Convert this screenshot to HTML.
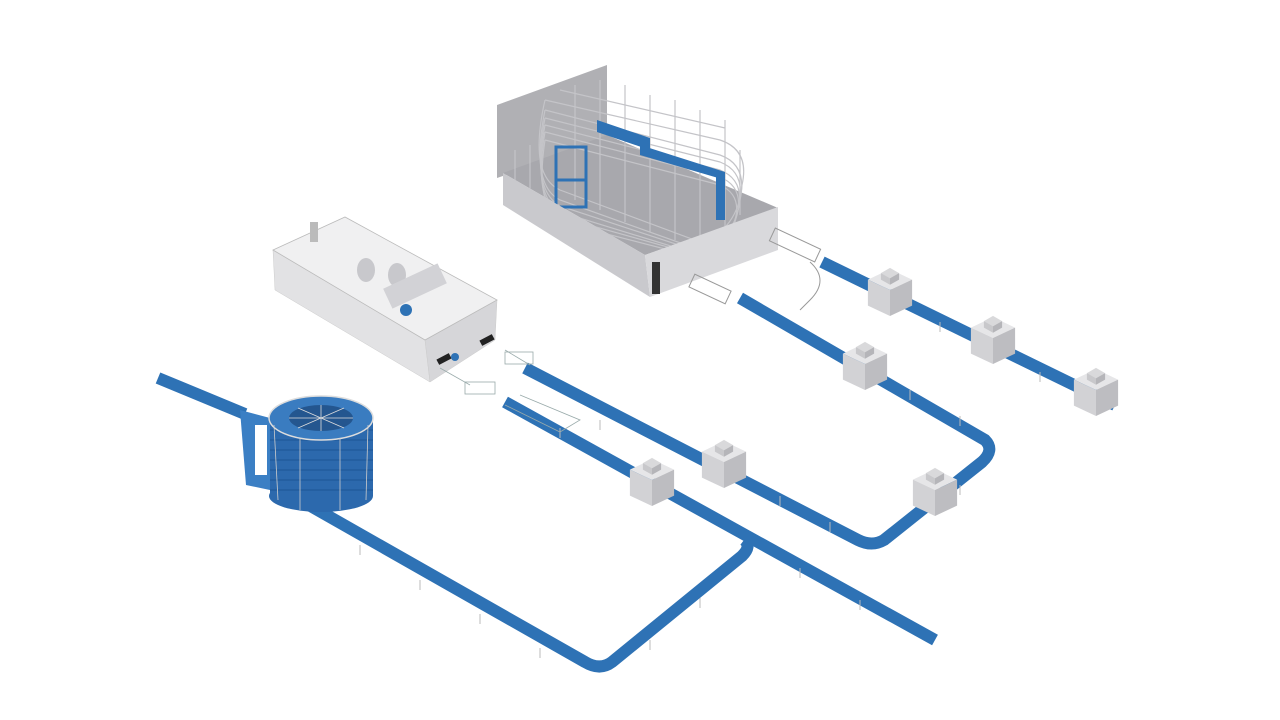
<!DOCTYPE html>
<html><head><meta charset="utf-8"><style>html,body{margin:0;padding:0;background:#fff}svg{display:block}</style></head>
<body>
<svg width="1280" height="720" viewBox="0 0 1280 720" xmlns="http://www.w3.org/2000/svg">
<defs>
<g id="box" transform="scale(1.3)">
<polygon points="-17,-8 0,-16 17,-8 0,0" fill="#e6e6e8"/>
<polygon points="-17,-8 0,0 0,20 -17,12" fill="#d2d2d5"/>
<polygon points="0,0 17,-8 17,12 0,20" fill="#bdbdc1"/>
<polygon points="-7,-13 0,-17 7,-13 0,-9" fill="#d9d9db"/>
<polygon points="-7,-13 0,-9 0,-4 -7,-8" fill="#c8c8cb"/>
<polygon points="0,-9 7,-13 7,-8 0,-4" fill="#b5b5b9"/>
</g>
</defs>
<g fill="none" stroke="#2e72b5" stroke-width="12" stroke-linejoin="round" stroke-linecap="butt">
<polyline points="158,378 245,414"/>
<path d="M300,500 L585,662 Q600,671 612,662 L742,556 Q752,546 744,540"/>
<polyline points="505,402 935,640"/>
<path d="M525,368 L858,540 Q872,547 884,540 L982,462 Q995,450 985,440 L740,298"/>
<polyline points="822,262 1115,405"/>
</g>
<g stroke="#bbb" stroke-width="1">
<line x1="360" y1="545" x2="360" y2="555"/><line x1="420" y1="580" x2="420" y2="590"/><line x1="480" y1="614" x2="480" y2="624"/><line x1="540" y1="648" x2="540" y2="658"/>
<line x1="650" y1="640" x2="650" y2="650"/><line x1="700" y1="598" x2="700" y2="608"/>
<line x1="800" y1="568" x2="800" y2="578"/><line x1="860" y1="600" x2="860" y2="610"/>
<line x1="780" y1="496" x2="780" y2="506"/><line x1="830" y1="522" x2="830" y2="532"/><line x1="960" y1="485" x2="960" y2="495"/>
<line x1="910" y1="390" x2="910" y2="400"/><line x1="960" y1="416" x2="960" y2="426"/>
<line x1="1040" y1="372" x2="1040" y2="382"/><line x1="940" y1="322" x2="940" y2="332"/>
<line x1="600" y1="420" x2="600" y2="430"/><line x1="560" y1="428" x2="560" y2="438"/>
</g>
<use href="#box" x="652" y="480"/>
<use href="#box" x="724" y="462"/>
<use href="#box" x="865" y="364"/>
<use href="#box" x="935" y="490"/>
<use href="#box" x="890" y="290"/>
<use href="#box" x="993" y="338"/>
<use href="#box" x="1096" y="390"/>

<polygon points="273,250 425,340 430,382 275,290" fill="#e2e2e4" stroke="#ccc" stroke-width="0.5"/>
<polygon points="425,340 497,300 495,340 430,382" fill="#d6d6d9" stroke="#ccc" stroke-width="0.5"/>
<polygon points="273,250 345,217 497,300 425,340" fill="#f0f0f1" stroke="#bbb" stroke-width="0.8"/>
<g fill="#c8c8cc"><ellipse cx="366" cy="270" rx="9" ry="12"/><ellipse cx="397" cy="275" rx="9" ry="12"/></g>
<rect x="385" y="275" width="60" height="22" fill="#d2d2d6" transform="rotate(-25 415 286)"/>
<circle cx="406" cy="310" r="6" fill="#2e72b5"/>
<rect x="437" y="356" width="14" height="6" fill="#222" transform="rotate(-28 444 359)"/>
<rect x="480" y="337" width="14" height="6" fill="#222" transform="rotate(-28 487 340)"/>
<circle cx="455" cy="357" r="4" fill="#2e72b5"/>
<rect x="310" y="222" width="8" height="20" fill="#bbb"/>
<g stroke="#9aa" stroke-width="0.8" fill="none"><line x1="440" y1="368" x2="470" y2="385"/><line x1="505" y1="350" x2="530" y2="365"/><rect x="505" y="352" width="28" height="12"/><rect x="465" y="382" width="30" height="12"/><path d="M520,395 L580,420 L560,432 L505,405"/></g>

<polygon points="240,410 270,418 270,490 246,485" fill="#3b7fc4"/>
<rect x="255" y="425" width="12" height="50" fill="#fff"/>
<rect x="270" y="418" width="103" height="78" fill="#2c69ad"/>
<ellipse cx="321" cy="496" rx="52" ry="16" fill="#2c69ad"/>
<g stroke="#1f5a9a" stroke-width="1.2">
<line x1="270" y1="430" x2="373" y2="430"/><line x1="270" y1="440" x2="373" y2="440"/><line x1="270" y1="450" x2="373" y2="450"/><line x1="270" y1="460" x2="373" y2="460"/><line x1="270" y1="470" x2="373" y2="470"/><line x1="270" y1="480" x2="373" y2="480"/><line x1="270" y1="490" x2="373" y2="490"/>
</g>
<ellipse cx="321" cy="418" rx="52" ry="22" fill="#3a7cc0" stroke="#ddd" stroke-width="1.5"/>
<ellipse cx="321" cy="418" rx="32" ry="13" fill="#24568f"/>
<g stroke="#ddd" stroke-width="0.8"><line x1="289" y1="418" x2="353" y2="418"/><line x1="321" y1="405" x2="321" y2="431"/><line x1="298" y1="408" x2="344" y2="428"/><line x1="298" y1="428" x2="344" y2="408"/></g>
<g stroke="#ccc" stroke-width="0.8"><line x1="274" y1="425" x2="278" y2="500"/><line x1="300" y1="438" x2="300" y2="510"/><line x1="340" y1="438" x2="340" y2="510"/><line x1="368" y1="425" x2="366" y2="500"/></g>

<polygon points="497,105 607,65 607,140 497,178" fill="#b0b0b4"/>
<polygon points="503,173 607,135 778,208 645,255" fill="#a8a8ad"/>
<g fill="none" stroke="#c4c4c8" stroke-width="1.2">
<path d="M545,110 L720,155 Q748,165 740,200 Q735,240 700,250 L560,200 Q530,185 545,110"/>
<path d="M545,125 L720,170 Q745,180 738,210 Q730,245 700,255 L560,212 Q532,195 545,125"/>
<path d="M545,140 L720,185 Q742,195 735,220 Q728,250 700,258 L560,222 Q535,205 545,140"/>
<path d="M545,100 L720,140 Q750,150 742,185 Q738,230 700,242 L560,190 Q528,175 545,100"/>
<path d="M545,118 L720,162 Q746,172 739,205 Q733,242 700,252 L560,206 Q531,190 545,118"/>
<path d="M545,132 L720,177 Q744,187 737,215 Q729,248 700,256 L560,217 Q533,200 545,132"/>
<path d="M560,90 L725,128 M575,85 L575,200 M600,80 L600,210 M625,85 L625,222 M650,95 L650,232 M675,100 L675,240 M700,110 L700,250 M725,120 L725,240 M740,150 L740,215"/>
<path d="M515,150 L515,200 M530,145 L530,205"/>
</g>
<polygon points="597,120 650,138 650,150 597,132" fill="#2e72b5"/>
<polygon points="640,145 725,172 725,180 640,155" fill="#2e72b5"/>
<rect x="716" y="172" width="9" height="48" fill="#2e72b5"/>
<g fill="none" stroke="#2e72b5" stroke-width="3"><rect x="556" y="147" width="30" height="60"/><line x1="556" y1="180" x2="586" y2="180"/></g>
<polygon points="503,173 645,255 650,297 503,205" fill="#c9c9cd"/>
<polygon points="645,255 778,207 778,250 650,297" fill="#d9d9dc"/>
<rect x="652" y="262" width="8" height="32" fill="#333"/>
<g stroke="#999" stroke-width="1" fill="none"><rect x="690" y="282" width="40" height="14" transform="rotate(25 710 289)"/><rect x="770" y="238" width="50" height="14" transform="rotate(25 795 245)"/><path d="M810,262 Q830,280 810,300 L800,310"/></g>
</svg>
</body></html>
